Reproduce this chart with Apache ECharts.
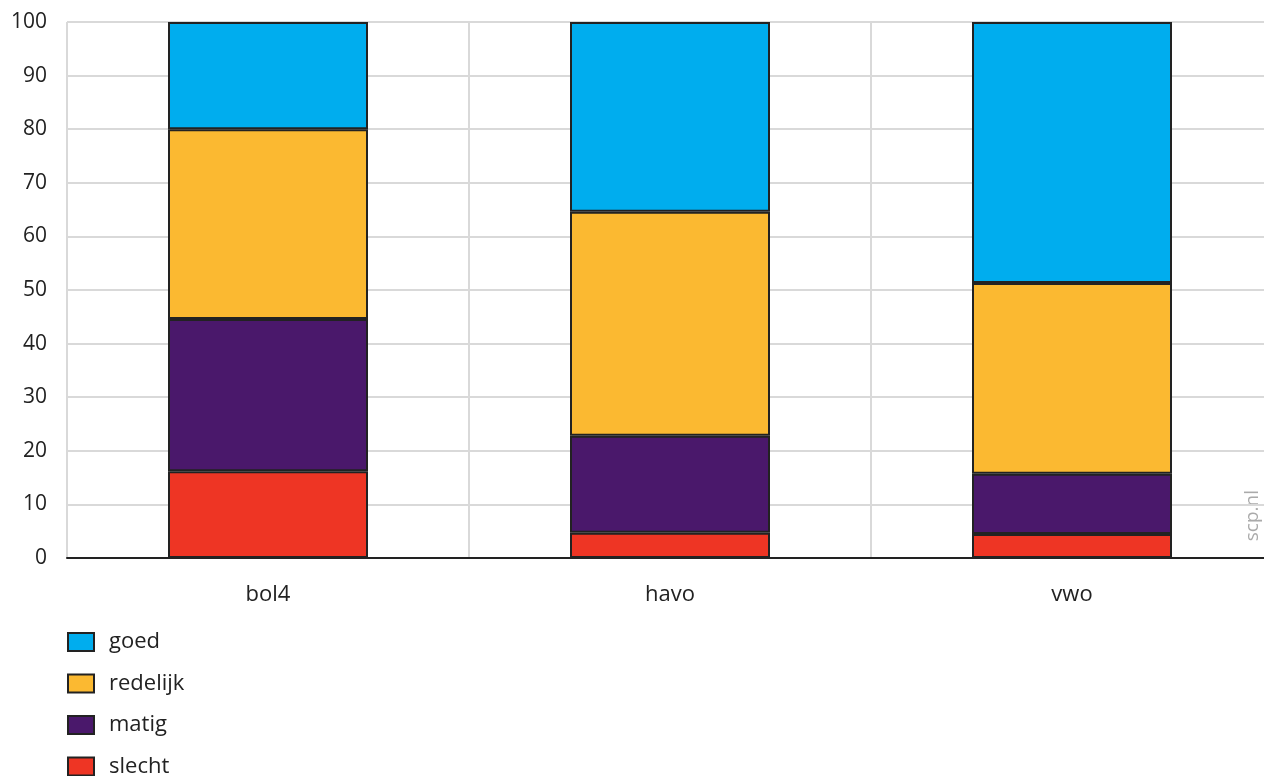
<!DOCTYPE html>
<html>
<head>
<meta charset="utf-8">
<script src="https://cdn.jsdelivr.net/npm/echarts@6/dist/echarts.min.js"></script>
<style>
html,body{margin:0;padding:0;background:#fff;}
#c{width:1264px;height:776px;}
</style>
</head>
<body>
<div id="c"></div>
<script>
const categories = ['bol4', 'havo', 'vwo'];
const slecht = [16.2, 4.7, 4.5];
const matig = [28.4, 18.1, 11.2];
const redelijk = [35.4, 41.8, 35.6];
const goed = [20.0, 35.4, 48.7];
const legendOrder = ['goed', 'redelijk', 'matig', 'slecht'];

const font = '"Open Sans", "Noto Sans", sans-serif';
const chart = echarts.init(document.getElementById('c'));
function bar(name, data, color) {
  return {
    name: name, type: 'bar', stack: 'total', data: data, barWidth: 200,
    itemStyle: { color: color, borderColor: '#222', borderWidth: 2 },
    emphasis: { disabled: true }
  };
}
chart.setOption({
  animation: false,
  grid: { left: 67, top: 22, width: 1206, height: 536, outerBoundsMode: 'none', containLabel: false },
  xAxis: {
    type: 'category', data: categories,
    axisLine: { lineStyle: { color: '#222', width: 2 } },
    axisTick: { alignWithLabel: true, length: 10, lineStyle: { color: '#222', width: 2 } },
    axisLabel: { color: '#222', fontSize: 22, fontFamily: font, margin: 26 },
    splitLine: { show: true, lineStyle: { color: '#d9d9d9', width: 2 } }
  },
  yAxis: {
    type: 'value', min: 0, max: 100, interval: 10,
    axisLine: { show: false }, axisTick: { show: false },
    axisLabel: { color: '#222', fontSize: 21, fontFamily: font, margin: 20 },
    splitLine: { lineStyle: { color: '#d9d9d9', width: 2 } }
  },
  legend: {
    data: legendOrder, orient: 'vertical', left: 67, top: 631, padding: 0, height: 300,
    icon: 'rect', itemWidth: 26, itemHeight: 18, itemGap: 19.5,
    textStyle: { color: '#222', fontSize: 22, fontFamily: font, lineHeight: 20, padding: [0, 0, 0, 10] },
    selectedMode: false
  },
  graphic: [{
    type: 'text', left: 1243, top: 490, rotation: Math.PI / 2,
    style: { text: 'scp.nl', fill: '#aaa', font: '19px ' + font }
  }],
  series: [
    bar('slecht', slecht, '#ee3524'),
    bar('matig', matig, '#4a186b'),
    bar('redelijk', redelijk, '#fbb931'),
    bar('goed', goed, '#00adee')
  ]
});
</script>
</body>
</html>
